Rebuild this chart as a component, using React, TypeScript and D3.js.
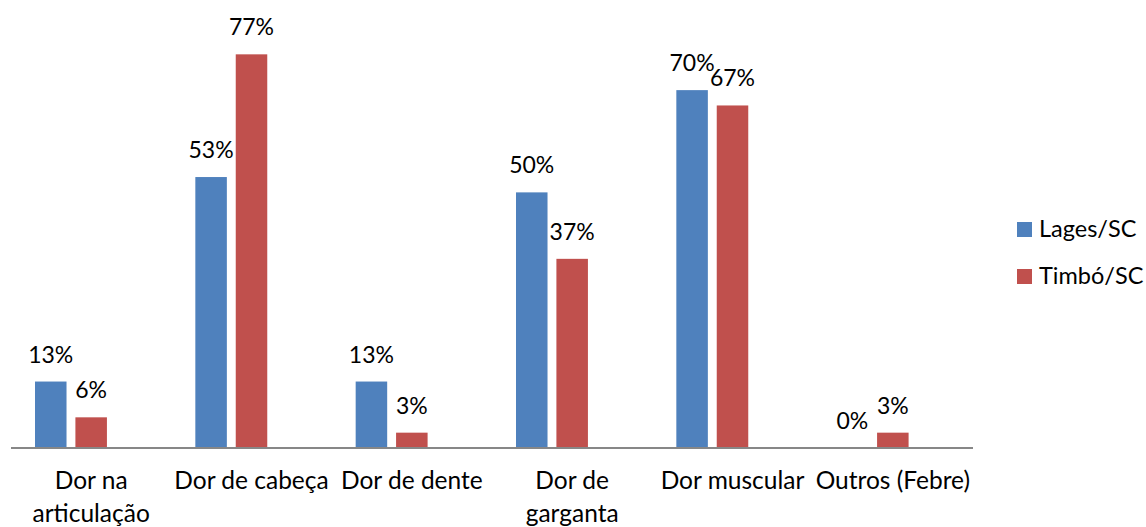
import React, { useEffect } from 'react';
import * as d3 from 'd3';

// chart data
const categories = ['Dor na\narticulação', 'Dor de cabeça', 'Dor de dente', 'Dor de\ngarganta', 'Dor muscular', 'Outros (Febre)'];
const seriesNames = ['Lages/SC', 'Timbó/SC'];
const lagesValues = [13, 53, 13, 50, 70, 0];
const timboValues = [6, 77, 3, 37, 67, 3];
const seriesColors = ['#4F81BD', '#C0504D'];

const W = 1146;
const H = 527;
const font = 'Lato, Carlito, Calibri, sans-serif';

/* App: grouped bar chart with value labels and a legend on the right */
export default function App() {
  useEffect(() => {
    document.body.style.margin = '0';
  }, []);

  const plot = { left: 11, right: 973, base: 448 };
  const x0 = d3.scaleBand().domain(categories).range([plot.left, plot.right]);
  // Excel left room for a third (empty) series in each group
  const x1 = d3.scaleBand()
    .domain([...seriesNames, ''])
    .range([24, x0.bandwidth() - 24])
    .paddingInner(0.22)
    .paddingOuter(0);
  const y = d3.scaleLinear().domain([0, 80]).range([plot.base, 39]);

  const series = [lagesValues, timboValues];

  return (
    <svg width={W} height={H} style={{ position: 'absolute', left: 0, top: 0, background: '#fff' }} fontFamily={font}>
      {series.map((vals, si) => (
        <g key={seriesNames[si]}>
          {vals.map((v, ci) => {
            const bx = (x0(categories[ci]) || 0) + (x1(seriesNames[si]) || 0);
            return (
              <g key={ci}>
                {v > 0 && (
                  <rect x={bx} y={y(v)} width={x1.bandwidth()} height={plot.base - y(v)} fill={seriesColors[si]} />
                )}
                <text x={bx + x1.bandwidth() / 2} y={y(v) - 19} textAnchor='middle' fontSize={23} fill='#000'>{`${v}%`}</text>
              </g>
            );
          })}
        </g>
      ))}

      <line x1={plot.left} x2={plot.right} y1={plot.base} y2={plot.base} stroke='#878787' strokeWidth={2} />

      {categories.map((c) => {
        const cx = (x0(c) || 0) + x0.bandwidth() / 2;
        return (
          <text key={c} x={cx} y={489} textAnchor='middle' fontSize={24.5} fill='#000'>
            {c.split('\n').map((line, i) => (
              <tspan key={i} x={cx} dy={i === 0 ? 0 : 33}>{line}</tspan>
            ))}
          </text>
        );
      })}

      {seriesNames.map((s, i) => (
        <g key={s} transform={`translate(1017,${222 + i * 47})`}>
          <rect width={15} height={15} fill={seriesColors[i]} />
          <text x={22} y={15} fontSize={23.5} fill='#000'>{s}</text>
        </g>
      ))}
    </svg>
  );
}
